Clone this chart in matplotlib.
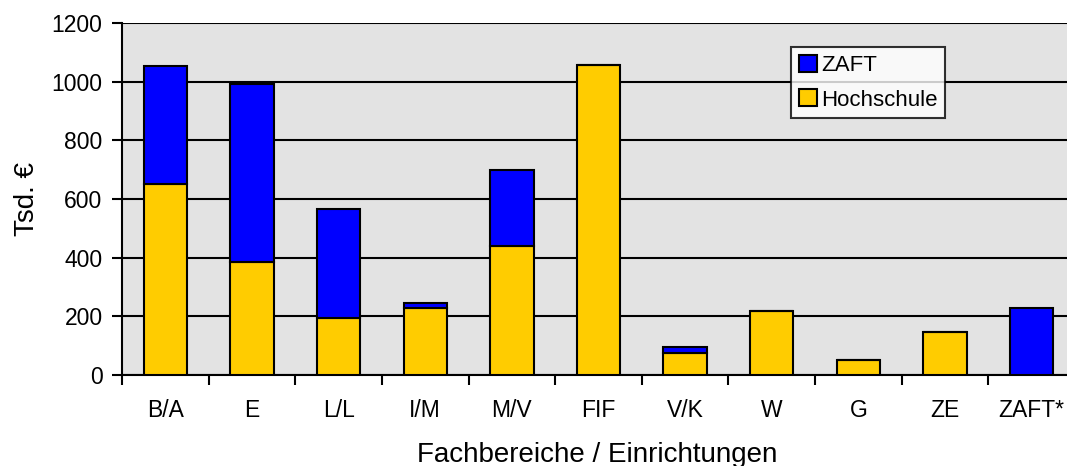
import matplotlib.pyplot as plt
import numpy as np

plt.rcParams['font.family'] = ['Liberation Sans', 'DejaVu Sans']

categories = ['B/A', 'E', 'L/L', 'I/M', 'M/V', 'FIF', 'V/K', 'W', 'G', 'ZE', 'ZAFT*']
hochschule = [650, 386, 193, 229, 441, 1057, 74, 218, 52, 146, 0]
zaft = [402, 606, 372, 15, 258, 0, 23, 0, 0, 0, 227]
y_ticks = [0, 200, 400, 600, 800, 1000, 1200]

fig = plt.figure(figsize=(10.67, 4.66), dpi=100)
# plot area runs slightly past the right edge of the picture, like the original
ax = fig.add_axes([122 / 1067, 1 - 375 / 466, 953 / 1067, 352 / 466])
ax.set_facecolor('#e3e3e3')

x = np.arange(len(categories))
ax.bar(x, hochschule, width=0.5, color='#ffcc00', edgecolor='black', linewidth=1.5,
       label='Hochschule', zorder=3)
ax.bar(x, zaft, width=0.5, bottom=hochschule, color='#0000ff', edgecolor='black',
       linewidth=1.5, label='ZAFT', zorder=3)

ax.set_xlim(-0.5, len(categories) - 0.5)
ax.set_ylim(0, 1200)
ax.set_yticks(y_ticks)
ax.set_yticklabels([str(v) for v in y_ticks], fontsize=16.5)
ax.yaxis.grid(True, color='black', linewidth=1.5, zorder=0)
ax.set_axisbelow(True)

ax.set_xticks(x)
ax.set_xticklabels(categories, fontsize=16.5)
ax.tick_params(axis='x', length=0, pad=17)
ax.set_xticks(np.arange(len(categories)) - 0.5, minor=True)
ax.tick_params(axis='x', which='minor', length=7, width=1.5, direction='out')
ax.tick_params(axis='y', length=7, width=1.5, direction='out', pad=7)

for s in ['top', 'right']:
    ax.spines[s].set_visible(False)
for s in ['left', 'bottom']:
    ax.spines[s].set_linewidth(1.5)

ax.set_ylabel('Tsd. €', fontsize=20, labelpad=8)
# x label sits low, right at the bottom edge of the picture
fig.text(597 / 1067, 4 / 466, 'Fachbereiche / Einrichtungen', fontsize=20,
         ha='center', va='baseline')

handles, labels = ax.get_legend_handles_labels()
leg = ax.legend(handles[::-1], labels[::-1], loc='upper left',
                bbox_to_anchor=((791 - 122) / 953, 1 - (47 - 23) / 352),
                fontsize=16, frameon=True, fancybox=False, edgecolor='black',
                handlelength=0.8, handleheight=0.8, handletextpad=0.2,
                borderpad=0.35, labelspacing=0.6, borderaxespad=0)
leg.get_frame().set_linewidth(1.5)

fig.savefig('out.png', dpi=100)
